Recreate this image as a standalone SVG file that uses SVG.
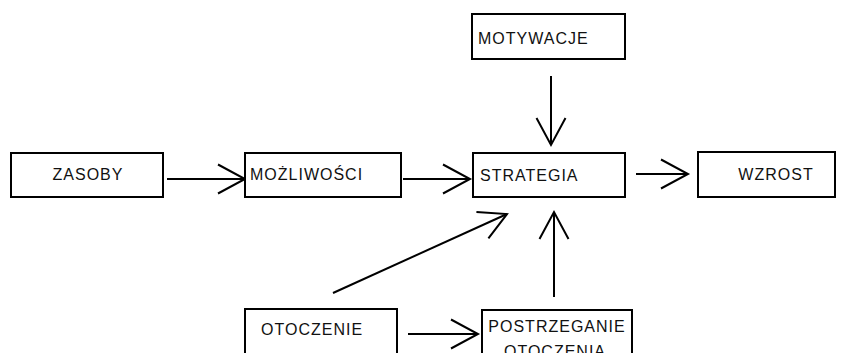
<svg xmlns="http://www.w3.org/2000/svg" width="841" height="353" viewBox="0 0 841 353">
  <style>
    .box { fill: #ffffff; stroke: #000000; stroke-width: 2; }
    .lbl { font-family: "Liberation Sans", Arial, sans-serif; font-size: 16px; letter-spacing: 1px; fill: #111111; }
    .mid { text-anchor: middle; }
    .conn { fill: none; stroke: #000000; stroke-width: 2; marker-end: url(#open); }
  </style>
  <defs>
    <!-- open V arrowhead -->
    <marker id="open" markerUnits="userSpaceOnUse" viewBox="-30 -17 32 34" refX="0" refY="0" markerWidth="32" markerHeight="34" orient="auto" overflow="visible">
      <path d="M-27,-14.5 L0,0 L-27,14.5" fill="none" stroke="#000000" stroke-width="2"/>
    </marker>
  </defs>
  <rect width="841" height="353" fill="#ffffff"/>

  <g id="connectors">
    <line class="conn" x1="167" y1="179" x2="245" y2="179"/>
    <line class="conn" x1="403" y1="179" x2="470" y2="179"/>
    <line class="conn" x1="636" y1="174" x2="688" y2="174"/>
    <line class="conn" x1="551" y1="76" x2="551" y2="145"/>
    <line class="conn" x1="333" y1="293" x2="507" y2="214"/>
    <line class="conn" x1="554" y1="297" x2="554" y2="212"/>
    <line class="conn" x1="408" y1="334" x2="478" y2="334"/>
  </g>

  <g id="zasoby">
    <rect class="box" x="11" y="153" width="152" height="44"/>
    <text class="lbl mid" x="88" y="180">ZASOBY</text>
  </g>
  <g id="mozliwosci">
    <rect class="box" x="245" y="153" width="156" height="44"/>
    <text class="lbl" x="250" y="180">MOŻLIWOŚCI</text>
  </g>
  <g id="strategia">
    <rect class="box" x="473" y="153" width="152" height="44"/>
    <text class="lbl" x="480" y="181">STRATEGIA</text>
  </g>
  <g id="wzrost">
    <rect class="box" x="698" y="152" width="137" height="45"/>
    <text class="lbl mid" x="776" y="180">WZROST</text>
  </g>
  <g id="motywacje">
    <rect class="box" x="472" y="14" width="153" height="45"/>
    <text class="lbl" x="478" y="44">MOTYWACJE</text>
  </g>
  <g id="otoczenie">
    <rect class="box" x="245" y="309" width="152" height="60"/>
    <text class="lbl" x="261" y="335">OTOCZENIE</text>
  </g>
  <g id="postrzeganie">
    <rect class="box" x="482" y="310" width="150" height="60"/>
    <text class="lbl mid" x="557" y="332">POSTRZEGANIE</text>
    <text class="lbl mid" x="555" y="357">OTOCZENIA</text>
  </g>
</svg>
